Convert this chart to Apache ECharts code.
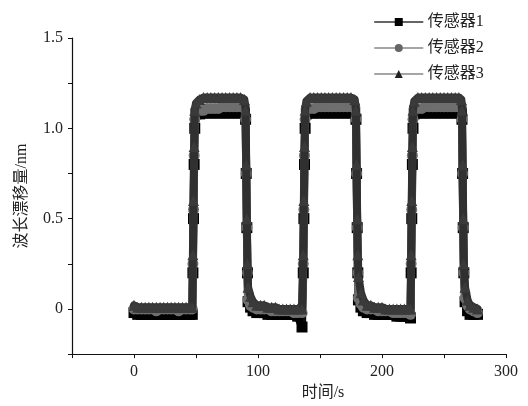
<!DOCTYPE html>
<html><head><meta charset="utf-8">
<script src="https://cdn.jsdelivr.net/npm/echarts@6/dist/echarts.min.js"></script>
<style>html,body{margin:0;padding:0;background:#fff}#c{width:528px;height:406px}</style>
</head><body><div id="c"></div>
<script>
const seriesNames = ['传感器1', '传感器2', '传感器3'];
const xTicks = [0, 100, 200, 300];
const yTicks = [0, 0.5, 1.0, 1.5];

const time = [
  0,3,6,9,12,15,18,21,24,27,30,33,36,39,42,45,47,
  47.5,48,48.5,49,
  50,53,56,59,62,65,68,71,74,77,80,83,86,89,
  90,90.5,91,91.5,
  92,94,96,99,102,
  105,108,111,114,117,120,123,126,129,132,135.5,
  136.5,137,137.5,138,
  139,142,145,148,151,154,157,160,163,166,169,172,175,178,
  179,179.5,180,180.5,
  181,183,185,188,191,
  194,197,200,203,206,209,212,215,218,221,223,
  223.5,224,224.5,225,
  226,229,232,235,238,241,244,247,250,253,256,259,262,264,
  264.5,265,265.5,266,
  267,269,271,274,277
];

const sensor1 = [
  -0.02,-0.03,-0.03,-0.03,-0.03,-0.03,-0.03,-0.03,-0.03,-0.03,-0.03,-0.03,-0.03,-0.03,-0.03,-0.03,-0.03,
  0.2,0.5,0.8,1.0,
  1.08,1.08,1.085,1.085,1.085,1.085,1.085,1.085,1.085,1.085,1.085,1.085,1.085,1.085,
  1.05,0.75,0.45,0.2,
  0.04,0.01,-0.01,-0.02,-0.02,
  -0.02,-0.03,-0.03,-0.03,-0.03,-0.03,-0.03,-0.03,-0.03,-0.04,-0.1,
  0.2,0.5,0.8,1.0,
  1.08,1.085,1.085,1.085,1.085,1.085,1.085,1.085,1.085,1.085,1.085,1.085,1.085,1.085,
  1.05,0.75,0.45,0.2,
  0.05,0.01,-0.01,-0.02,-0.02,
  -0.03,-0.03,-0.03,-0.03,-0.03,-0.03,-0.04,-0.04,-0.04,-0.04,-0.05,
  0.2,0.5,0.8,1.0,
  1.08,1.085,1.085,1.085,1.085,1.085,1.085,1.085,1.085,1.085,1.085,1.085,1.085,1.085,
  1.05,0.75,0.45,0.2,
  0.04,-0.01,-0.03,-0.03,-0.03
];

const sensor2 = [
  0.0,0.0,0.0,0.0,0.0,0.0,-0.01,0.0,0.0,0.0,0.0,0.0,-0.01,0.0,0.0,0.0,0.0,
  0.25,0.55,0.85,1.05,
  1.10,1.10,1.10,1.11,1.11,1.11,1.11,1.12,1.12,1.12,1.12,1.12,1.12,1.12,
  1.05,0.75,0.45,0.2,
  0.05,0.02,0.01,0.0,0.0,
  0.0,0.0,-0.01,-0.01,-0.01,-0.01,-0.01,-0.01,-0.02,-0.02,-0.02,
  0.25,0.55,0.85,1.05,
  1.11,1.11,1.11,1.12,1.12,1.12,1.12,1.12,1.12,1.12,1.12,1.12,1.12,1.12,
  1.05,0.75,0.45,0.2,
  0.06,0.03,0.01,0.0,0.0,
  0.0,-0.01,-0.01,-0.01,-0.01,-0.02,-0.02,-0.02,-0.02,-0.02,-0.03,
  0.25,0.55,0.85,1.05,
  1.11,1.11,1.11,1.12,1.12,1.12,1.12,1.12,1.12,1.12,1.12,1.12,1.12,1.12,
  1.05,0.75,0.45,0.2,
  0.06,0.02,0.0,-0.01,-0.02
];

const sensor3 = [
  0.02,0.01,0.01,0.01,0.01,0.01,0.01,0.01,0.01,0.01,0.01,0.01,0.01,0.01,0.01,0.01,0.01,
  0.3,0.6,0.9,1.1,
  1.14,1.16,1.17,1.17,1.17,1.17,1.17,1.17,1.17,1.17,1.17,1.17,1.17,1.16,
  1.1,0.8,0.5,0.25,
  0.12,0.07,0.04,0.02,0.02,
  0.02,0.01,0.01,0.01,0.0,0.0,0.0,0.0,0.0,0.0,0.0,
  0.3,0.6,0.9,1.1,
  1.15,1.17,1.17,1.17,1.17,1.17,1.17,1.17,1.17,1.17,1.17,1.17,1.17,1.16,
  1.1,0.8,0.5,0.3,
  0.18,0.09,0.05,0.02,0.02,
  0.01,0.01,0.01,0.0,0.0,0.0,0.0,0.0,0.0,0.0,0.0,
  0.3,0.6,0.9,1.1,
  1.15,1.17,1.17,1.17,1.17,1.17,1.17,1.17,1.17,1.17,1.17,1.17,1.17,1.16,
  1.1,0.8,0.5,0.25,
  0.12,0.05,0.02,0.01,0.0
];

const pair = ys => time.map((t, i) => [t, ys[i]]);
const serifFont = '"Liberation Serif", "Noto Sans CJK SC", serif';

const chart = echarts.init(document.getElementById('c'), null, {renderer: 'canvas'});
const mk = (name, ys, symbol, color, symColor, z) => ({
  name, type: 'line', data: pair(ys), symbol, symbolSize: 11,
  showSymbol: true, z,
  lineStyle: {color, width: 8, join: 'round', cap: 'round'},
  itemStyle: {color: symColor, borderWidth: 0},
  emphasis: {disabled: true}
});

chart.setOption({
  animation: false,
  backgroundColor: '#fff',
  textStyle: {fontFamily: serifFont},
  grid: {left: 72, right: 22, top: 38, bottom: 50, containLabel: false},
  legend: {
    orient: 'vertical', left: 369, top: 9,
    itemWidth: 48, itemHeight: 10, itemGap: 10,
    textStyle: {fontFamily: serifFont, fontSize: 16, color: '#222'},
    data: [
      {name: seriesNames[0], itemStyle: {color: '#000'}, lineStyle: {color: '#333', width: 1.5}},
      {name: seriesNames[1], itemStyle: {color: '#666'}, lineStyle: {color: '#888', width: 1.5}},
      {name: seriesNames[2], itemStyle: {color: '#222'}, lineStyle: {color: '#888', width: 1.5}}
    ]
  },
  xAxis: {
    type: 'value', min: -50, max: 300, interval: 50,
    name: '时间/s', nameLocation: 'middle', nameGap: 30,
    nameTextStyle: {fontFamily: serifFont, fontSize: 16, color: '#222', padding: [0, 0, 0, 68]},
    axisLine: {onZero: false, lineStyle: {color: '#111', width: 1.2}},
    axisTick: {inside: false, length: 4, lineStyle: {color: '#111'}},
    splitLine: {show: false},
    axisLabel: {
      fontFamily: serifFont, fontSize: 16, color: '#222', margin: 10,
      formatter: v => xTicks.includes(v) ? String(v) : ''
    }
  },
  yAxis: {
    type: 'value', min: -0.25, max: 1.5, interval: 0.25,
    name: '波长漂移量/nm', nameLocation: 'middle', nameGap: 42,
    nameTextStyle: {fontFamily: serifFont, fontSize: 16, color: '#222'},
    axisLine: {show: true, onZero: false, lineStyle: {color: '#111', width: 1.2}},
    axisTick: {show: true, inside: false, length: 4, lineStyle: {color: '#111'}},
    splitLine: {show: false},
    axisLabel: {
      fontFamily: serifFont, fontSize: 16, color: '#222', margin: 9,
      formatter: v => {
        const hit = yTicks.find(t => Math.abs(t - v) < 1e-9);
        if (hit === undefined) return '';
        return hit === 0 ? '0' : hit.toFixed(1);
      }
    }
  },
  series: [
    mk(seriesNames[0], sensor1, 'rect', '#0a0a0a', '#000', 2),
    mk(seriesNames[1], sensor2, 'circle', '#6e6e6e', '#6e6e6e', 3),
    mk(seriesNames[2], sensor3, 'triangle', '#303030', '#3a3a3a', 4)
  ]
});
</script></body></html>
